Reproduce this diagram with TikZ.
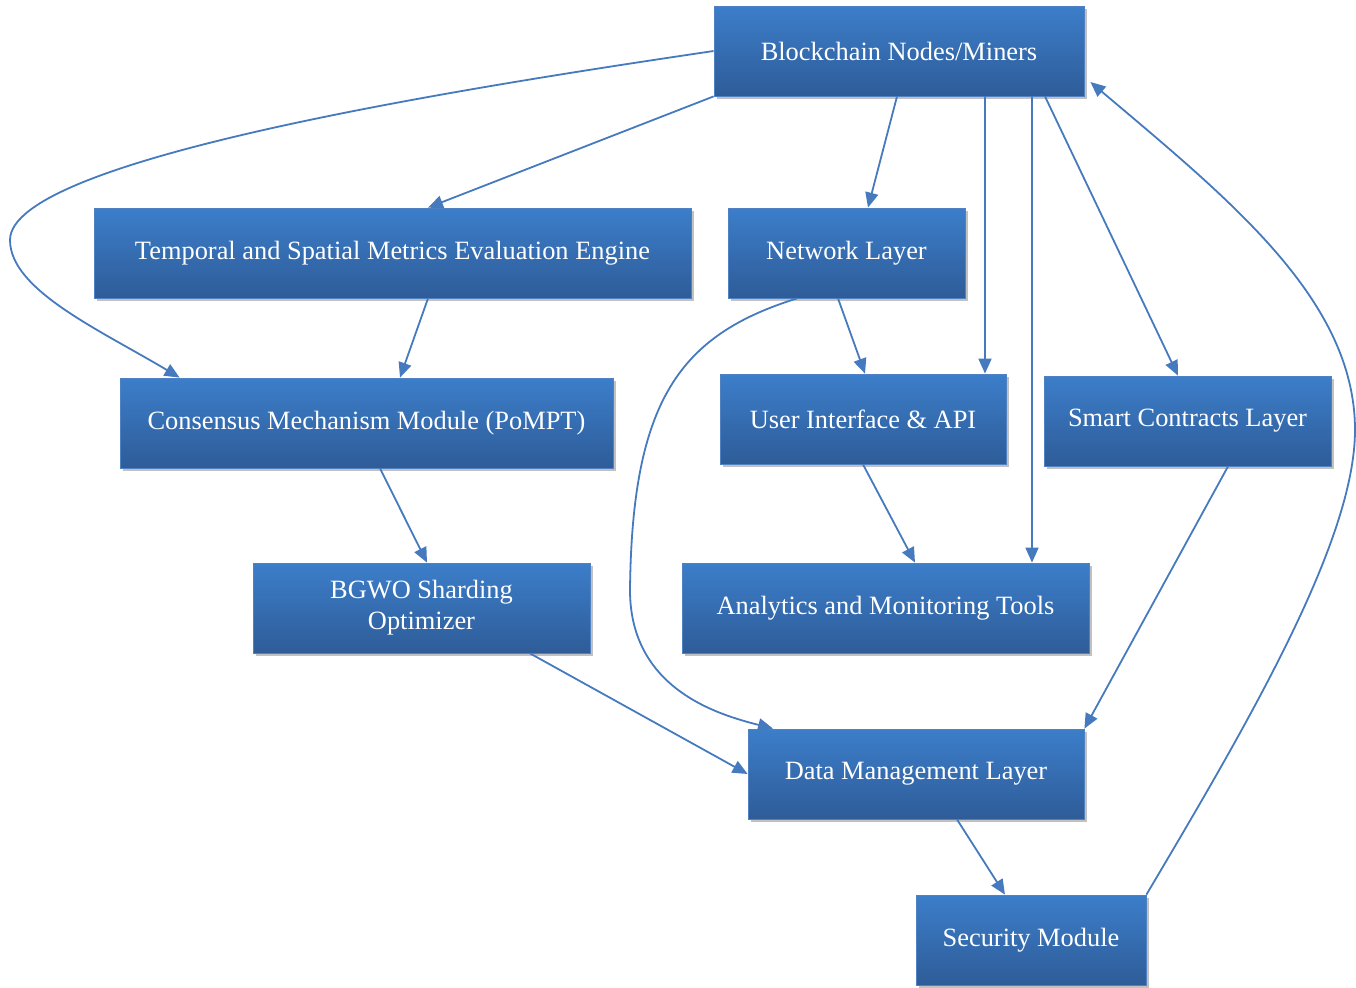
\documentclass[tikz,border=0pt]{standalone}
\usepackage{fontspec}
\setmainfont{Liberation Serif}
\usetikzlibrary{calc,shadows,arrows.meta}
\definecolor{boxtop}{RGB}{60,126,202}
\definecolor{boxmid}{RGB}{57,117,190}
\definecolor{boxbot}{RGB}{46,92,152}
\definecolor{boxedge}{RGB}{80,130,195}
\definecolor{linec}{RGB}{70,122,190}
\tikzset{
  box/.style={rectangle, inner sep=0pt, top color=boxtop, middle color=boxmid, bottom color=boxbot,
    draw=boxedge, line width=0.4pt, text=white, font=\fontsize{13.2}{15.5}\selectfont, align=center,
    drop shadow={shadow xshift=1.6pt, shadow yshift=-1.6pt, opacity=0.35, fill=black!70}},
  conn/.style={draw=linec, line width=0.9pt, -{Triangle[length=7.5pt,width=6.5pt]}}
}
\begin{document}
\begin{tikzpicture}[x=0.5pt,y=-0.5pt]
\useasboundingbox (0,0) rectangle (1356,987);
\node[box, minimum width=185pt, minimum height=45pt] (bc) at (899,51) {Blockchain Nodes/Miners};
\node[box, minimum width=298.5pt, minimum height=45pt] (tse) at (392.5,253) {Temporal and Spatial Metrics Evaluation Engine};
\node[box, minimum width=118.5pt, minimum height=45pt] (net) at (846.5,253) {Network Layer};
\node[box, minimum width=246.5pt, minimum height=45pt] (cons) at (366.5,423) {Consensus Mechanism Module (PoMPT)};
\node[box, minimum width=143pt, minimum height=45pt] (ui) at (863,419) {User Interface \& API};
\node[box, minimum width=143.5pt, minimum height=45pt] (sc) at (1187.5,421) {Smart Contracts Layer};
\node[box, minimum width=168.5pt, minimum height=45pt] (bgwo) at (421.5,608) {BGWO Sharding\\Optimizer};
\node[box, minimum width=203.5pt, minimum height=45pt] (ana) at (885.5,608) {Analytics and Monitoring Tools};
\node[box, minimum width=168pt, minimum height=45pt] (dm) at (916,774) {Data Management Layer};
\node[box, minimum width=115pt, minimum height=45pt] (sec) at (1031,940) {Security Module};

\draw[conn] (bc.south west) -- ($(tse.north)+(35.5,0)$);
\draw[conn] ($(bc.south)+(-2,0)$) -- ($(net.north)+(21.5,0)$);
\draw[conn] ($(bc.south)+(86,0)$) -- ($(ui.north)+(122,0)$);
\draw[conn] ($(bc.south)+(133,0)$) -- ($(ana.north)+(146.5,0)$);
\draw[conn] ($(bc.south)+(146,0)$) -- ($(sc.north)+(-9.5,0)$);
\coordinate (lw) at (10,240);
\draw[conn] (bc.west) .. controls (450,90) and (10,160) .. (lw) .. controls (10,290) and (100,330) .. ($(cons.north west)+(60,0)$);
\draw[conn] ($(tse.south)+(35.5,0)$) -- ($(cons.north)+(33.5,0)$);
\draw[conn] ($(net.south)+(-8.5,0)$) -- ($(ui.north)+(2,0)$);
\coordinate (nl) at (630,590);
\draw[conn] ($(net.south)+(-49.5,0)$) .. controls (680,335) and (632,400) .. (nl) .. controls (630,690) and (720,715) .. ($(dm.north)+(-143,0)$);
\draw[conn] ($(cons.south)+(13.5,0)$) -- ($(bgwo.north)+(5.5,0)$);
\draw[conn] (ui.south) -- ($(ana.north)+(29.5,0)$);
\draw[conn] ($(bgwo.south)+(108.5,0)$) -- (dm.west);
\draw[conn] ($(sc.south)+(40.5,0)$) -- (dm.north east);
\draw[conn] ($(dm.south)+(41,0)$) -- ($(sec.north)+(-26,0)$);
\coordinate (rr) at (1355,430);
\draw[conn] (sec.north east) .. controls (1250,720) and (1355,540) .. (rr) .. controls (1355,300) and (1230,200) .. ($(bc.east)+(6,31)$);
\end{tikzpicture}
\end{document}
